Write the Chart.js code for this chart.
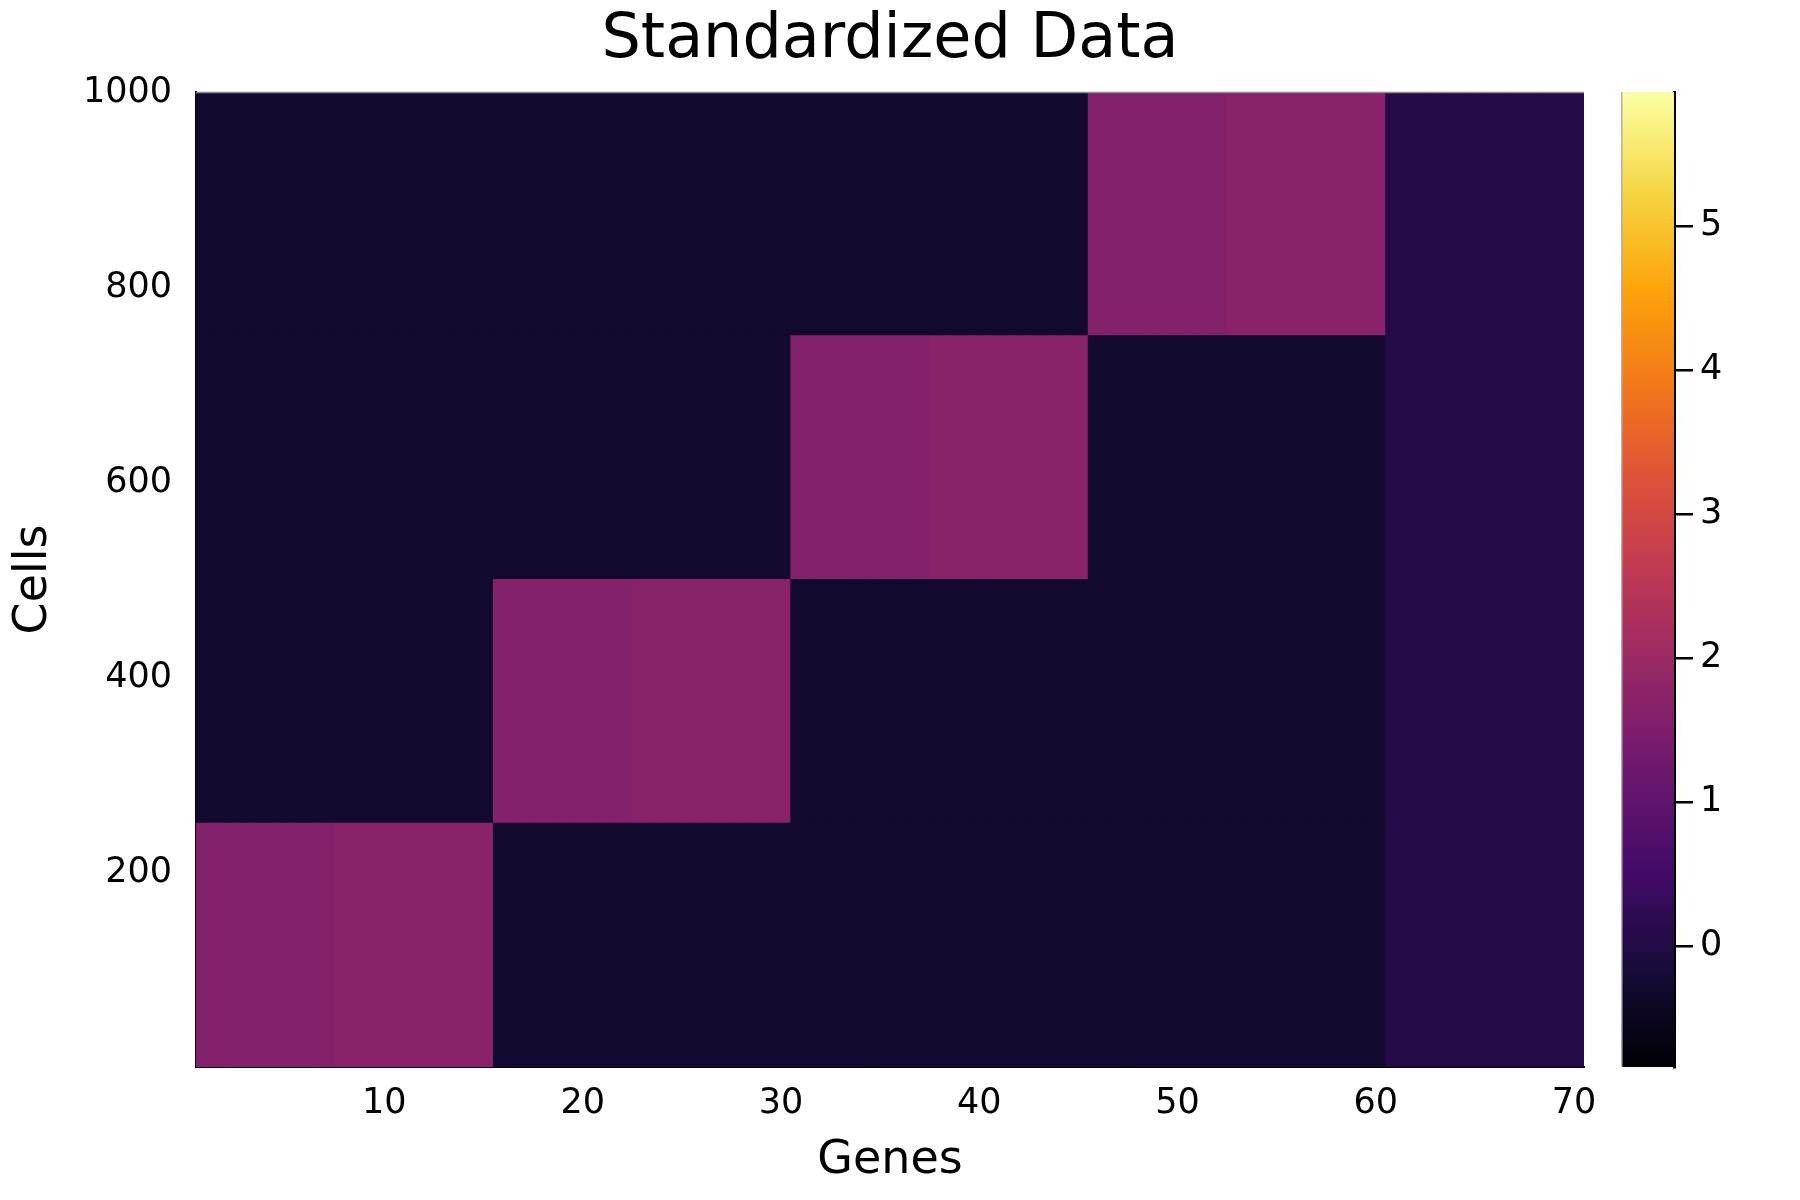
<!DOCTYPE html>
<html>
<head>
<meta charset="utf-8">
<script src="https://cdn.jsdelivr.net/npm/chart.js@4.4.1/dist/chart.umd.min.js"></script>
<style>
  html, body { margin: 0; padding: 0; background: #fff; }
  #wrap { position: relative; width: 1800px; height: 1200px; }
  #main { position: absolute; left: 0; top: 0; }
  #cbar { position: absolute; left: 1621px; top: 0; }
</style>
</head>
<body>
<div id="wrap">
  <canvas id="main" width="1800" height="1200"></canvas>
  <canvas id="cbar" width="179" height="1200"></canvas>
</div>
<script>
// genes on x, cells on y
const genes = [1,2,3,4,5,6,7,8,9,10,11,12,13,14,15,16,17,18,19,20,21,22,23,24,25,26,27,28,29,30,
  31,32,33,34,35,36,37,38,39,40,41,42,43,44,45,46,47,48,49,50,51,52,53,54,55,56,57,58,59,60,
  61,62,63,64,65,66,67,68,69,70]

// cell groups (rows)
const cellGroupStart = [1, 251, 501, 751]
const cellGroupEnd = [250, 500, 750, 1000]

// which cell group each gene is switched on in (-1 = noise gene, never)
const geneHighGroup = [0,0,0,0,0,0,0,0,0,0,0,0,0,0,0,
  1,1,1,1,1,1,1,1,1,1,1,1,1,1,1,
  2,2,2,2,2,2,2,2,2,2,2,2,2,2,2,
  3,3,3,3,3,3,3,3,3,3,3,3,3,3,3,
  -1,-1,-1,-1,-1,-1,-1,-1,-1,-1]

// standardized level inside the "on" block (first 7 genes of a block are speckled, next 8 even)
const highLevel = [1.6,1.6,1.6,1.6,1.6,1.6,1.6,1.7,1.7,1.7,1.7,1.7,1.7,1.7,1.7,
  1.6,1.6,1.6,1.6,1.6,1.6,1.6,1.7,1.7,1.7,1.7,1.7,1.7,1.7,1.7,
  1.6,1.6,1.6,1.6,1.6,1.6,1.6,1.7,1.7,1.7,1.7,1.7,1.7,1.7,1.7,
  1.6,1.6,1.6,1.6,1.6,1.6,1.6,1.7,1.7,1.7,1.7,1.7,1.7,1.7,1.7,
  0.05,0.05,0.05,0.05,0.05,0.05,0.05,0.05,0.05,0.05]

// standardized level everywhere else
const restLevel = [-0.3,-0.3,-0.3,-0.3,-0.3,-0.3,-0.3,-0.3,-0.3,-0.3,-0.3,-0.3,-0.3,-0.3,-0.3,
  -0.3,-0.3,-0.3,-0.3,-0.3,-0.3,-0.3,-0.3,-0.3,-0.3,-0.3,-0.3,-0.3,-0.3,-0.3,
  -0.3,-0.3,-0.3,-0.3,-0.3,-0.3,-0.3,-0.3,-0.3,-0.3,-0.3,-0.3,-0.3,-0.3,-0.3,
  -0.3,-0.3,-0.3,-0.3,-0.3,-0.3,-0.3,-0.3,-0.3,-0.3,-0.3,-0.3,-0.3,-0.3,-0.3,
  0.05,0.05,0.05,0.05,0.05,0.05,0.05,0.05,0.05,0.05]

const xTicks = [10, 20, 30, 40, 50, 60, 70]
const yTicks = [200, 400, 600, 800, 1000]
const colorTicks = [0, 1, 2, 3, 4, 5]
const colorMin = -0.84
const colorMax = 5.93

const FONT = "'DejaVu Sans', sans-serif"

// inferno colormap stops, t = 0, 0.1, ... 1
const infernoStops = ["#000004","#160b39","#420a68","#6a176e","#932667","#bc3754",
  "#dd513a","#f37819","#fca50a","#f6d746","#fcffa4"]

function hexRgb(h){
  return [parseInt(h.slice(1,3),16), parseInt(h.slice(3,5),16), parseInt(h.slice(5,7),16)]
}

function inferno(v){
  let t = (v - colorMin) / (colorMax - colorMin)
  t = Math.max(0, Math.min(1, t))
  const p = t * (infernoStops.length - 1)
  const i = Math.min(Math.floor(p), infernoStops.length - 2)
  const f = p - i
  const a = hexRgb(infernoStops[i]), b = hexRgb(infernoStops[i+1])
  const c = a.map((ch, k) => Math.round(ch + (b[k] - ch) * f))
  return "rgb(" + c.join(",") + ")"
}

// one floating-bar dataset per cell group, one bar per gene
const datasets = cellGroupStart.map(function(start, gi){
  return {
    data: genes.map(g => ({x: g, y: [start - 0.5, cellGroupEnd[gi] + 0.5]})),
    backgroundColor: genes.map((g, i) => inferno(geneHighGroup[i] === gi ? highLevel[i] : restLevel[i])),
    borderWidth: 0,
    grouped: false,
    barPercentage: 1,
    categoryPercentage: 1,
    inflateAmount: 0.5
  }
})

const frameTop = {
  id: "frameTop",
  afterDatasetsDraw(chart){
    const {ctx, chartArea: a} = chart
    ctx.save()
    ctx.strokeStyle = "#8a8a8a"
    ctx.lineWidth = 1.5
    ctx.beginPath()
    ctx.moveTo(a.left, a.top + 0.5)
    ctx.lineTo(a.right, a.top + 0.5)
    ctx.stroke()
    ctx.restore()
  }
}

new Chart(document.getElementById("main"), {
  type: "bar",
  data: {datasets: datasets},
  plugins: [frameTop],
  options: {
    responsive: false,
    animation: false,
    devicePixelRatio: 1,
    layout: {padding: {left: 0, right: 216, top: 0, bottom: 0}},
    plugins: {
      legend: {display: false},
      tooltip: {enabled: false},
      title: {
        display: true,
        fullSize: false,
        text: "Standardized Data",
        color: "#000",
        font: {family: FONT, size: 62, weight: "normal", lineHeight: 1},
        padding: {top: 10, bottom: 20}
      }
    },
    scales: {
      x: {
        type: "linear",
        min: 0.5,
        max: 70.5,
        offset: false,
        z: 1,
        afterBuildTicks: s => { s.ticks = xTicks.map(v => ({value: v})) },
        afterFit: s => { s.height = 133 },
        grid: {display: false},
        border: {display: true, color: "#000", width: 2},
        ticks: {color: "#000", font: {family: FONT, size: 35}, padding: 8, maxRotation: 0,
          callback: v => String(v)},
        title: {display: true, text: "Genes", color: "#000",
          font: {family: FONT, size: 46}, padding: {top: 0, bottom: 11}}
      },
      y: {
        type: "linear",
        min: 0.5,
        max: 1000.5,
        z: 1,
        afterBuildTicks: s => { s.ticks = yTicks.map(v => ({value: v})) },
        afterFit: s => { s.width = 196 },
        grid: {display: false},
        border: {display: true, color: "#000", width: 2},
        ticks: {color: "#000", font: {family: FONT, size: 35}, padding: 16,
          callback: v => String(v)},
        title: {display: true, text: "Cells", color: "#000",
          font: {family: FONT, size: 46}, padding: {top: 6, bottom: 0}}
      }
    }
  }
})

// colour bar
const colorbarFill = {
  id: "colorbarFill",
  beforeDatasetsDraw(chart){
    const {ctx, chartArea: a, scales} = chart
    const y = scales.y
    const g = ctx.createLinearGradient(0, y.getPixelForValue(colorMin), 0, y.getPixelForValue(colorMax))
    infernoStops.forEach((c, i) => g.addColorStop(i / (infernoStops.length - 1), c))
    ctx.save()
    ctx.fillStyle = g
    ctx.fillRect(a.left, a.top, a.right - a.left, a.bottom - a.top)
    ctx.strokeStyle = "#b0b0b0"
    ctx.lineWidth = 1.5
    ctx.beginPath()
    ctx.moveTo(a.left + 0.75, a.top)
    ctx.lineTo(a.left + 0.75, a.bottom)
    ctx.stroke()
    ctx.restore()
  }
}

new Chart(document.getElementById("cbar"), {
  type: "bar",
  data: {labels: [""], datasets: [{data: [null]}]},
  plugins: [colorbarFill],
  options: {
    responsive: false,
    animation: false,
    devicePixelRatio: 1,
    layout: {padding: {left: 0, right: 0, top: 92, bottom: 133}},
    plugins: {legend: {display: false}, tooltip: {enabled: false}, title: {display: false}},
    scales: {
      x: {display: false},
      y: {
        type: "linear",
        position: "right",
        min: colorMin,
        max: colorMax,
        z: 1,
        afterBuildTicks: s => { s.ticks = colorTicks.map(v => ({value: v})) },
        afterFit: s => { s.width = 126 },
        grid: {display: true, drawOnChartArea: false, drawTicks: true, tickLength: 19, color: "#000", lineWidth: 2.5},
        border: {display: true, color: "#000", width: 3},
        ticks: {color: "#000", font: {family: FONT, size: 35}, padding: 7}
      }
    }
  }
})
</script>
</body>
</html>
